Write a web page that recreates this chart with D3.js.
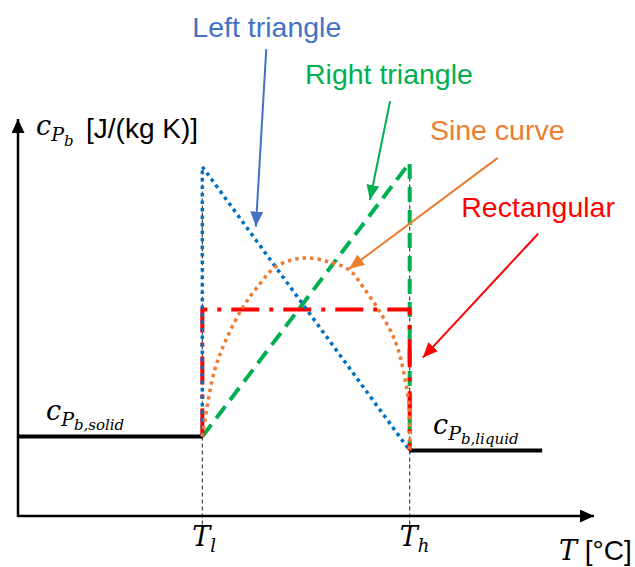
<!DOCTYPE html>
<html>
<head>
<meta charset="utf-8">
<script src="https://cdn.jsdelivr.net/npm/d3@7"></script>
<style>
  body { margin: 0; background: #fff; }
  svg { display: block; }
</style>
</head>
<body>
<div class="chart-div"></div>
<script>
const w = 635;
const h = 567;

// temperature axis (arbitrary units) and c_p values
const T_l = 32;
const T_h = 68;
const axisT = [0, 100];
const axisCp = [0, 100];

const solidT = [0, T_l];
const solidCp = [20, 20];
const liquidT = [T_h, 91];
const liquidCp = [16.5, 16.5];

const leftTriT = [T_l, T_l, T_h];
const leftTriCp = [20, 88, 16.5];

const rightTriT = [T_l, T_h, T_h];
const rightTriCp = [20, 89, 16.5];

const rectT = [T_l, T_l, T_h, T_h];
const rectCp = [20, 52, 52, 16.5];

const sineT = [32, 34, 36, 39, 42, 44.5, 47.5, 50.5, 54, 57.5, 60, 63, 65.5, 67, 68, 68];
const sineCp = [20, 36, 44, 52.5, 58.5, 62.5, 64.5, 65, 64, 62, 57.5, 51, 44, 36, 26, 16.5];

// call-outs
const calloutNames = ["Left triangle", "Right triangle", "Sine curve", "Rectangular"];
const calloutLabelT = [43.2, 64.4, 83.2, 90.3];
const calloutLabelCp = [120.6, 108.8, 94.7, 75.4];
const calloutFromT = [43.1, 64.6, 83.3, 90.3];
const calloutFromCp = [117.6, 104.5, 90.2, 71.1];
const calloutToT = [41.3, 61.1, 57.5, 70.3];
const calloutToCp = [72.9, 79.6, 62.3, 39.9];
const calloutColors = ["#4472C4", "#00B050", "#ED7D31", "#FF0000"];

const x = d3.scaleLinear().domain([0, 100]).range([18, 594]);
const y = d3.scaleLinear().domain([0, 100]).range([516, 119]);

const svg = d3.select(".chart-div")
    .append("svg")
    .attr("width", w)
    .attr("height", h);

const defs = svg.append("defs");
function addHead(id, color, len, wid) {
    defs.append("marker")
        .attr("id", id)
        .attr("markerUnits", "userSpaceOnUse")
        .attr("markerWidth", len)
        .attr("markerHeight", wid)
        .attr("refX", len)
        .attr("refY", wid / 2)
        .attr("orient", "auto")
        .append("path")
        .attr("d", `M0,0 L${len},${wid / 2} L0,${wid} Z`)
        .attr("fill", color);
}
addHead("axisHead", "#000", 14, 13);
calloutColors.forEach((c, i) => addHead("head" + i, c, 15, 13));

const line = (ts, cps) => d3.line()
    .x((d, i) => x(ts[i]))
    .y((d, i) => y(cps[i]))(ts);

// guides at T_l and T_h
[T_l, T_h].forEach(t => {
    svg.append("line")
        .attr("x1", x(t)).attr("x2", x(t))
        .attr("y1", y(87)).attr("y2", y(-3.5))
        .attr("stroke", "#404040")
        .attr("stroke-width", 1.2)
        .attr("stroke-dasharray", "4,3");
});

// axes
svg.append("line")
    .attr("x1", x(0)).attr("y1", y(0))
    .attr("x2", x(axisT[1])).attr("y2", y(0))
    .attr("stroke", "#000").attr("stroke-width", 2.5)
    .attr("marker-end", "url(#axisHead)");
svg.append("line")
    .attr("x1", x(0)).attr("y1", y(0) + 1)
    .attr("x2", x(0)).attr("y2", y(axisCp[1]))
    .attr("stroke", "#000").attr("stroke-width", 2.5)
    .attr("marker-end", "url(#axisHead)");

// solid / liquid levels
svg.append("path").attr("d", line(solidT, solidCp))
    .attr("fill", "none").attr("stroke", "#000").attr("stroke-width", 4);
svg.append("path").attr("d", line(liquidT, liquidCp))
    .attr("fill", "none").attr("stroke", "#000").attr("stroke-width", 4);

// models
svg.append("path").attr("d", line(rightTriT, rightTriCp))
    .attr("fill", "none").attr("stroke", "#00B050").attr("stroke-width", 4)
    .attr("stroke-dasharray", "15,8");
svg.append("path").attr("d", line(rectT, rectCp))
    .attr("fill", "none").attr("stroke", "#FF0000").attr("stroke-width", 4)
    .attr("stroke-dasharray", "28,10,4,10");
svg.append("path").attr("d", line(leftTriT, leftTriCp))
    .attr("fill", "none").attr("stroke", "#0070C0").attr("stroke-width", 3.5)
    .attr("stroke-dasharray", "3.5,4");
svg.append("path")
    .attr("d", d3.line()
        .x((d, i) => x(sineT[i]))
        .y((d, i) => y(sineCp[i]))
        .curve(d3.curveCatmullRom)(sineT))
    .attr("fill", "none").attr("stroke", "#ED7D31").attr("stroke-width", 3.5)
    .attr("stroke-dasharray", "3.5,4");

calloutNames.forEach((name, i) => {
    svg.append("line")
        .attr("x1", x(calloutFromT[i])).attr("y1", y(calloutFromCp[i]))
        .attr("x2", x(calloutToT[i])).attr("y2", y(calloutToCp[i]))
        .attr("stroke", calloutColors[i]).attr("stroke-width", 2)
        .attr("marker-end", `url(#head${i})`);
    svg.append("text")
        .attr("x", x(calloutLabelT[i]))
        .attr("y", y(calloutLabelCp[i]))
        .attr("text-anchor", "middle")
        .attr("font-family", "Liberation Sans, Arial, sans-serif")
        .attr("font-size", 28.5)
        .attr("fill", calloutColors[i])
        .text(name);
});

// math-ish text: parts = [text, size, dy, italic]
const mathFont = "DejaVu Serif, serif";
function mathText(px, py, parts) {
    const t = svg.append("text")
        .attr("x", px).attr("y", py)
        .attr("fill", "#000");
    parts.forEach(p => {
        const s = t.append("tspan")
            .attr("dy", p[2])
            .attr("font-size", p[1])
            .attr("font-family", p[3] ? mathFont : "Liberation Sans, Arial, sans-serif")
            .attr("font-style", p[3] ? "italic" : "normal")
            .text(p[0]);
        if (p[4] !== undefined) s.attr("x", p[4]);
    });
    return t;
}

mathText(36, 135, [["c", 27, 0, true], ["P", 19, 6, true], ["b", 15, 5, true], ["[J/(kg K)]", 28, -8, false, 86]]);
mathText(46, 420, [["c", 27, 0, true], ["P", 19, 6, true], ["b,solid", 15, 4, true]]);
mathText(433, 434, [["c", 27, 0, true], ["P", 19, 6, true], ["b,liquid", 15, 4, true]]);

mathText(x(T_l) - 10, 546, [["T", 27, 0, true], ["l", 18, 6, true]]);
mathText(x(T_h) - 10, 546, [["T", 27, 0, true], ["h", 18, 6, true]]);
mathText(559, 560, [["T", 27, 0, true], [" [°C]", 28, 0, false]]);
</script>
</body>
</html>
